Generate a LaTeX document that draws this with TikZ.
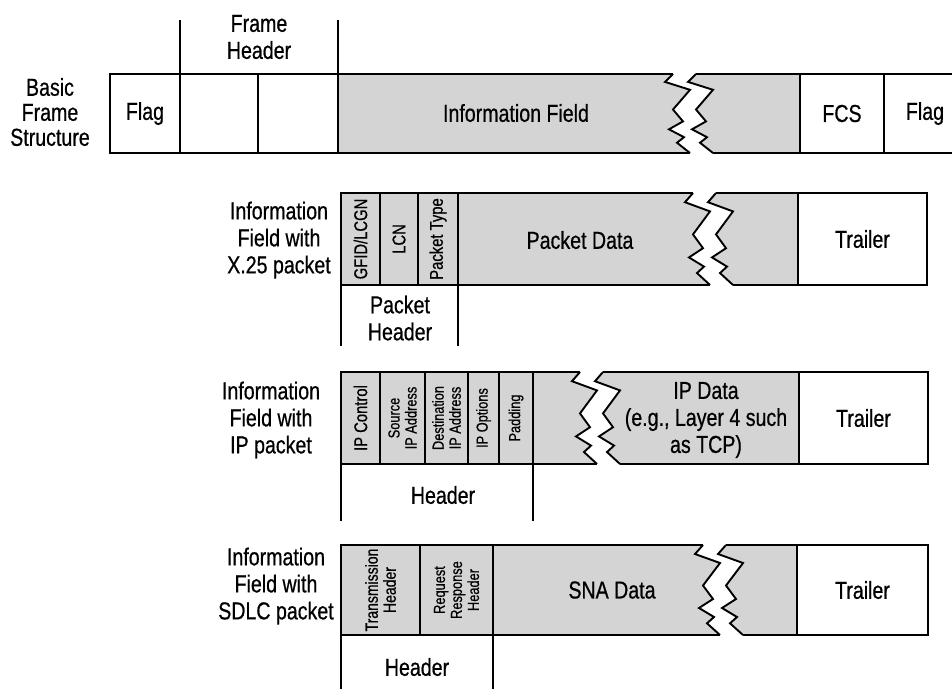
\documentclass[tikz,border=0pt]{standalone}
\usepackage{fontspec}
\setmainfont{Liberation Sans}[FakeStretch=0.8,FakeBold=0.6]
\definecolor{fieldgray}{RGB}{212,212,212}
\tikzset{
  edge/.style={line width=1.9pt},
  title/.style={align=center, font=\fontsize{24.5}{27}\selectfont},
  vlabel/.style={rotate=90, align=center, inner sep=0pt, font=\fontsize{18.5}{18}\selectfont},
  vsmall/.style={vlabel, font=\fontsize{16}{17}\selectfont},
}
\newcommand\zigcut[3]{%
  \begin{scope}[shift={(#1,#2)}, yscale=#3]
    \fill[white] (0,0) -- (-8,0.1) -- (17,0.2) -- (0,0.45) -- (10,0.6) -- (-4,0.7) -- (11,0.8) -- (4,0.87) -- (17,1)
      -- (40,1) -- (27,0.87) -- (34,0.8) -- (19,0.7) -- (33,0.6) -- (23,0.45) -- (40,0.2) -- (15,0.1) -- (23,0) -- cycle;
    \draw[edge] (0,0) -- (-8,0.1) -- (17,0.2) -- (0,0.45) -- (10,0.6) -- (-4,0.7) -- (11,0.8) -- (4,0.87) -- (17,1);
    \draw[edge] (23,0) -- (15,0.1) -- (40,0.2) -- (23,0.45) -- (33,0.6) -- (19,0.7) -- (34,0.8) -- (27,0.87) -- (40,1);
  \end{scope}}
\begin{document}
\begin{tikzpicture}[x=1pt,y=-1pt,title]
\useasboundingbox (0,0) rectangle (952,689);
% basic frame
\node[font=\fontsize{24.5}{25}\selectfont] (basic) at (50,112) {Basic\\Frame\\Structure};
\node (fhead) at (259,37) {Frame\\Header};
\draw[edge] (180,20) -- (180,74);
\draw[edge] (338,20) -- (338,74);
\draw[edge] (110,74) rectangle node (flagA) {Flag} (180,153);
\draw[edge] (180,74) rectangle node (hdrA) {} (258,153);
\draw[edge] (258,74) rectangle node (hdrB) {} (338,153);
\fill[fieldgray] (338,74) rectangle (800,153);
\draw[edge] (673,74) -- (338,74) -- (338,153) -- (690,153);
\draw[edge] (696,74) -- (800,74) -- (800,153) -- (713,153);
\zigcut{673}{74}{79}
\node (info) at (516,113) {Information Field};
\draw[edge] (800,74) rectangle node (fcs) {FCS} (884,153);
\draw[edge] (884,74) rectangle node (flagB) {Flag} (966,153);
% x.25
\node (lblx) at (279,240) {Information\\Field with\\X.25 packet};
\draw[edge,fill=fieldgray] (341,193) rectangle node[vlabel] (gfid) {GFID/LCGN} (380,285);
\draw[edge,fill=fieldgray] (380,193) rectangle node[vlabel] (lcn) {LCN} (418,285);
\draw[edge,fill=fieldgray] (418,193) rectangle node[vlabel] (ptype) {Packet Type} (458,285);
\fill[fieldgray] (458,193) rectangle (798,285);
\draw[edge] (693,193) -- (458,193) -- (458,285) -- (710,285);
\draw[edge] (716,193) -- (798,193) -- (798,285) -- (733,285);
\zigcut{693}{193}{92}
\node (pdata) at (580,240) {Packet Data};
\draw[edge] (798,193) rectangle node (trlx) {Trailer} (927,285);
\draw[edge] (341,285) -- (341,346);
\draw[edge] (458,285) -- (458,346);
\node (phead) at (400,318) {Packet\\Header};
% ip
\node (lblip) at (271,420) {Information\\Field with\\IP packet};
\draw[edge,fill=fieldgray] (341,372) rectangle node[vlabel] (ipctl) {IP Control} (380,464);
\draw[edge,fill=fieldgray] (380,372) rectangle node[vsmall] (srcip) {Source\\IP Address} (425,464);
\draw[edge,fill=fieldgray] (425,372) rectangle node[vsmall] (dstip) {Destination\\IP Address} (468,464);
\draw[edge,fill=fieldgray] (468,372) rectangle node[vsmall] (ipopt) {IP Options} (499,464);
\draw[edge,fill=fieldgray] (499,372) rectangle node[vsmall] (pad) {Padding} (533,464);
\fill[fieldgray] (533,372) rectangle (799,464);
\draw[edge] (580,372) -- (533,372) -- (533,464) -- (597,464);
\draw[edge] (603,372) -- (799,372) -- (799,464) -- (620,464);
\zigcut{580}{372}{92}
\node (ipdata) at (706,420) {IP Data\\(e.g., Layer 4 such\\as TCP)};
\draw[edge] (799,372) rectangle node (trlip) {Trailer} (928,464);
\draw[edge] (341,464) -- (341,521);
\draw[edge] (533,464) -- (533,521);
\node (iphead) at (443,495) {Header};
% sdlc
\node (lblsdlc) at (276,586) {Information\\Field with\\SDLC packet};
\draw[edge,fill=fieldgray] (341,545) rectangle node[vlabel,font=\fontsize{17.5}{18}\selectfont] (thead) {Transmission\\Header} (420,635);
\draw[edge,fill=fieldgray] (420,545) rectangle node[vsmall] (rrhead) {Request\\Response\\Header} (493,635);
\fill[fieldgray] (493,545) rectangle (797,635);
\draw[edge] (703,545) -- (493,545) -- (493,635) -- (720,635);
\draw[edge] (726,545) -- (797,545) -- (797,635) -- (743,635);
\zigcut{703}{545}{90}
\node (sna) at (612,590) {SNA Data};
\draw[edge] (797,545) rectangle node (trlsdlc) {Trailer} (928,635);
\draw[edge] (341,635) -- (341,689);
\draw[edge] (493,635) -- (493,689);
\node (sdlchead) at (417,667) {Header};
\end{tikzpicture}
\end{document}
